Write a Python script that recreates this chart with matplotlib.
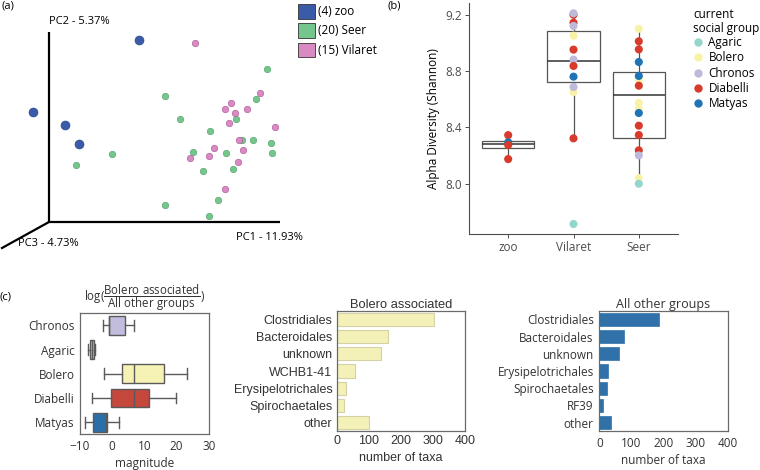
import matplotlib
matplotlib.use("Agg")
import matplotlib.pyplot as plt
from matplotlib.patches import Patch
from matplotlib.lines import Line2D

plt.rcParams['font.family'] = ['Open Sans', 'DejaVu Sans']
plt.rcParams['mathtext.fontset'] = 'custom'
plt.rcParams['mathtext.rm'] = 'Open Sans'
plt.rcParams['mathtext.it'] = 'Open Sans:italic'

W, H = 760, 470
def fx(px): return px / W
def fy(py): return 1 - py / H

# ---------------- data ----------------
# (a) PCoA samples, projected onto the page plane of the 3D plot
zoo_proj_x = [139, 33, 65, 79]
zoo_proj_y = [40, 112, 125, 144]
seer_proj_x = [267, 165, 256, 180, 236, 210, 242, 253, 271, 112, 193, 226, 272, 76, 203, 233, 218, 165, 209]
seer_proj_y = [69, 96, 99, 119, 119, 131, 140, 140, 143, 154, 152, 153, 153, 165, 171, 169, 200, 205, 216]
vil_proj_x = [195, 260, 231, 225, 247, 235, 229, 275, 239, 214, 243, 209, 190, 238, 225]
vil_proj_y = [43, 93, 103, 109, 109, 113, 123, 127, 140, 148, 150, 156, 158, 162, 189]
pca_labels = ["(4) zoo", "(20) Seer", "(15) Vilaret"]
pc_axis_labels = ["PC1 - 11.93%", "PC2 - 5.37%", "PC3 - 4.73%"]

# (b) alpha diversity
sites = ["zoo", "Vilaret", "Seer"]
zoo_alpha = [8.345, 8.294, 8.275, 8.175]
zoo_group = ["Diabelli", "Matyas", "Diabelli", "Diabelli"]
vil_alpha = [9.20, 9.21, 9.143, 9.12, 9.051, 8.952, 8.881, 8.836, 8.76, 8.651, 8.687, 8.322, 7.714]
vil_group = ["Diabelli", "Chronos", "Diabelli", "Chronos", "Bolero", "Diabelli", "Chronos", "Diabelli",
             "Matyas", "Bolero", "Chronos", "Diabelli", "Agaric"]
seer_alpha = [9.10, 9.011, 8.954, 8.864, 8.74, 8.765, 8.696, 8.573, 8.53, 8.502, 8.412, 8.346, 8.237, 8.201, 8.04, 8.0]
seer_group = ["Bolero", "Diabelli", "Diabelli", "Matyas", "Bolero", "Matyas", "Diabelli", "Bolero", "Bolero",
              "Matyas", "Diabelli", "Diabelli", "Diabelli", "Chronos", "Bolero", "Agaric"]
# box statistics (q1, median, q3, whisker low, whisker high)
alpha_q1 = [8.253, 8.722, 8.322]
alpha_med = [8.282, 8.869, 8.632]
alpha_q3 = [8.305, 9.082, 8.791]
alpha_wlo = [8.175, 8.322, 8.0]
alpha_whi = [8.345, 9.21, 9.10]
social_groups = ["Agaric", "Bolero", "Chronos", "Diabelli", "Matyas"]

# (c) log-ratio magnitude per group
mag_groups = ["Chronos", "Agaric", "Bolero", "Diabelli", "Matyas"]
mag_q1 = [-1.03, -6.9, 2.9, -0.3, -6.04]
mag_med = [-1.0, -6.3, 6.8, 6.77, -1.9]
mag_q3 = [4.06, -5.8, 16.2, 11.35, -1.67]
mag_wlo = [-2.72, -7.6, -2.4, -6.35, -8.44]
mag_whi = [6.66, -5.3, 23.3, 19.7, 1.97]

bolero_taxa = ["Clostridiales", "Bacteroidales", "unknown", "WCHB1-41", "Erysipelotrichales", "Spirochaetales", "other"]
bolero_counts = [304, 161, 139, 58, 30, 24, 102]
other_taxa = ["Clostridiales", "Bacteroidales", "unknown", "Erysipelotrichales", "Spirochaetales", "RF39", "other"]
other_counts = [186, 77, 61, 28, 24, 12.5, 37]

# ---------------- styles ----------------
pca_colors = ["#3a5ca8", "#74c68d", "#d98ac3"]
grp_colors = {"Agaric": "#93d6cb", "Bolero": "#f8f2a6", "Chronos": "#bfb9da",
              "Diabelli": "#d83a2b", "Matyas": "#1f74b6"}
box_colors = ["#c3bddd", "#9bd3c9", "#f5f2b4", "#c6473b", "#2b6fa8"]

fig = plt.figure(figsize=(7.6, 4.7), dpi=100)

# ---------------- (a) ----------------
axa = fig.add_axes([0, 1 - 260 / H, 380 / W, 260 / H])
axa.set_xlim(0, 380)
axa.set_ylim(260, 0)
axa.axis("off")
axa.plot([49, 49, 280], [32, 222, 222], color="black", lw=1.6, solid_capstyle="butt")
axa.plot([49, 2], [222, 248], color="black", lw=1.6)
axa.scatter(seer_proj_x, seer_proj_y, s=22, color=pca_colors[1], edgecolors="#4f9e67", linewidths=0.4, zorder=3)
axa.scatter(vil_proj_x, vil_proj_y, s=22, color=pca_colors[2], edgecolors="#a8558f", linewidths=0.4, zorder=3)
axa.scatter(zoo_proj_x, zoo_proj_y, s=42, color=pca_colors[0], edgecolors="#23407e", linewidths=0.4, zorder=3)
axa.text(49, 21, pc_axis_labels[1], fontsize=8, ha="left", va="center")
axa.text(236, 237, pc_axis_labels[0], fontsize=8, ha="left", va="center")
axa.text(18, 243, pc_axis_labels[2], fontsize=8, ha="left", va="center")
handles = [Patch(facecolor=c, edgecolor="#333333", linewidth=0.6) for c in pca_colors]
axa.legend(handles, pca_labels, loc="upper left", bbox_to_anchor=(fx(290), fy(-4)),
           bbox_transform=fig.transFigure, frameon=False, fontsize=8.5,
           handlelength=1.4, handleheight=1.5, handletextpad=0.25, labelspacing=0.4, borderpad=0.2)
fig.text(fx(2), fy(6), "(a)", fontsize=8, ha="left", va="center")

# ---------------- (b) ----------------
axb = fig.add_axes([fx(469), fy(234), 209 / W, 231 / H])
stats = []
for i in range(3):
    stats.append(dict(med=alpha_med[i], q1=alpha_q1[i], q3=alpha_q3[i],
                      whislo=alpha_wlo[i], whishi=alpha_whi[i], fliers=[]))
axb.bxp(stats, positions=[0, 1, 2], widths=0.8, showcaps=False, showfliers=False, patch_artist=True,
        boxprops=dict(facecolor="white", edgecolor="#555555", linewidth=0.9),
        medianprops=dict(color="#333333", linewidth=1.1),
        whiskerprops=dict(color="#555555", linewidth=0.9), zorder=2)
for xi, (vals, grps) in enumerate([(zoo_alpha, zoo_group), (vil_alpha, vil_group), (seer_alpha, seer_group)]):
    axb.scatter([xi] * len(vals), vals, s=34, c=[grp_colors[g] for g in grps], edgecolors="none", zorder=3)
axb.set_xlim(-0.6, 2.6)
axb.set_ylim(7.643, 9.283)
axb.set_yticks([8.0, 8.4, 8.8, 9.2])
axb.set_yticklabels(["8.0", "8.4", "8.8", "9.2"])
axb.set_xticks([0, 1, 2])
axb.set_xticklabels(sites)
axb.tick_params(labelsize=8.5, colors="#4d4d4d", length=3, width=0.7, pad=2)
for s in ["top", "right"]:
    axb.spines[s].set_visible(False)
for s in ["left", "bottom"]:
    axb.spines[s].set_color("#4d4d4d")
    axb.spines[s].set_linewidth(0.8)
axb.set_ylabel("Alpha Diversity (Shannon)", fontsize=8.5, labelpad=4)
lh = [Line2D([], [], marker="o", linestyle="none", markersize=6, markerfacecolor=grp_colors[g],
             markeredgecolor="none") for g in social_groups]
lg = axb.legend(lh, social_groups, title="current\nsocial group", loc="upper left",
                bbox_to_anchor=(fx(686), fy(1)), bbox_transform=fig.transFigure, frameon=False,
                fontsize=8.5, title_fontsize=8.5, handlelength=0.8, handletextpad=0.5,
                labelspacing=0.2, borderpad=0.1, alignment="left")
lg.get_title().set_linespacing(1.05)
lg._legend_box.sep = 1
fig.text(fx(388), fy(6), "(b)", fontsize=8, ha="left", va="center")

# ---------------- (c) boxplot ----------------
axc = fig.add_axes([fx(80), fy(434.3), 128.7 / W, 121 / H])
cstats = []
for i in range(5):
    cstats.append(dict(med=mag_med[i], q1=mag_q1[i], q3=mag_q3[i],
                       whislo=mag_wlo[i], whishi=mag_whi[i], fliers=[]))
bp = axc.bxp(cstats, positions=list(range(5)), widths=0.78, capwidths=0.45, orientation="horizontal",
             showfliers=False, patch_artist=True,
             boxprops=dict(edgecolor="#5a5a5a", linewidth=1.0),
             medianprops=dict(color="#5a5a5a", linewidth=1.0),
             whiskerprops=dict(color="#5a5a5a", linewidth=1.0),
             capprops=dict(color="#5a5a5a", linewidth=1.0))
for patch, col in zip(bp["boxes"], box_colors):
    patch.set_facecolor(col)
axc.set_ylim(4.5, -0.5)
axc.set_xlim(-10, 30)
axc.set_yticks(range(5))
axc.set_yticklabels(mag_groups)
axc.set_xticks([-10, 0, 10, 20, 30])
axc.tick_params(labelsize=8.5, colors="#333333", length=0, pad=4)
for s in axc.spines.values():
    s.set_color("#6a6a6a")
    s.set_linewidth(0.9)
axc.set_xlabel("magnitude", fontsize=8.5, labelpad=3, color="#333333")
axc.set_title(r"$\mathrm{log}(\dfrac{\mathrm{Bolero\ associated}}{\mathrm{All\ other\ groups}})$",
              fontsize=8.3, pad=2, color="#333333")
fig.text(fx(0), fy(297), "(c)", fontsize=8, ha="left", va="center")

# ---------------- (c) bolero bars ----------------
axm = fig.add_axes([fx(336.7), fy(431.3), 128.3 / W, 120.6 / H])
axm.barh(range(7), bolero_counts, height=0.78, color="#f4f1b8", edgecolor="#d4d2a4", linewidth=0.8)
axm.set_ylim(6.5, -0.5)
axm.set_xlim(0, 400)
axm.set_yticks(range(7))
axm.set_yticklabels(bolero_taxa, fontfamily="Liberation Sans")
axm.set_xticks([0, 100, 200, 300, 400])
for lab in axm.get_xticklabels():
    lab.set_fontfamily("Liberation Sans")
axm.tick_params(labelsize=9, colors="#333333", length=0, pad=3)
for s in axm.spines.values():
    s.set_color("#6a6a6a")
    s.set_linewidth(0.9)
axm.set_xlabel("number of taxa", fontsize=9, fontfamily="Liberation Sans", color="#333333", labelpad=3)
axm.set_title("Bolero associated", fontsize=9.3, fontfamily="Liberation Sans", color="#333333", pad=2)

# ---------------- (c) other bars ----------------
axr = fig.add_axes([fx(599.3), fy(431.3), 128.4 / W, 120.6 / H])
axr.barh(range(7), other_counts, height=0.78, color="#2f71a8", edgecolor="#2f71a8", linewidth=0.5)
axr.set_ylim(6.5, -0.5)
axr.set_xlim(0, 400)
axr.set_yticks(range(7))
axr.set_yticklabels(other_taxa)
axr.set_xticks([0, 100, 200, 300, 400])
axr.tick_params(labelsize=8.5, colors="#333333", length=0, pad=4)
for s in axr.spines.values():
    s.set_color("#6a6a6a")
    s.set_linewidth(0.9)
axr.set_xlabel("number of taxa", fontsize=8.5, color="#333333", labelpad=3)
axr.set_title("All other groups", fontsize=9, color="#333333", pad=2)

fig.savefig("out.png", dpi=100)
